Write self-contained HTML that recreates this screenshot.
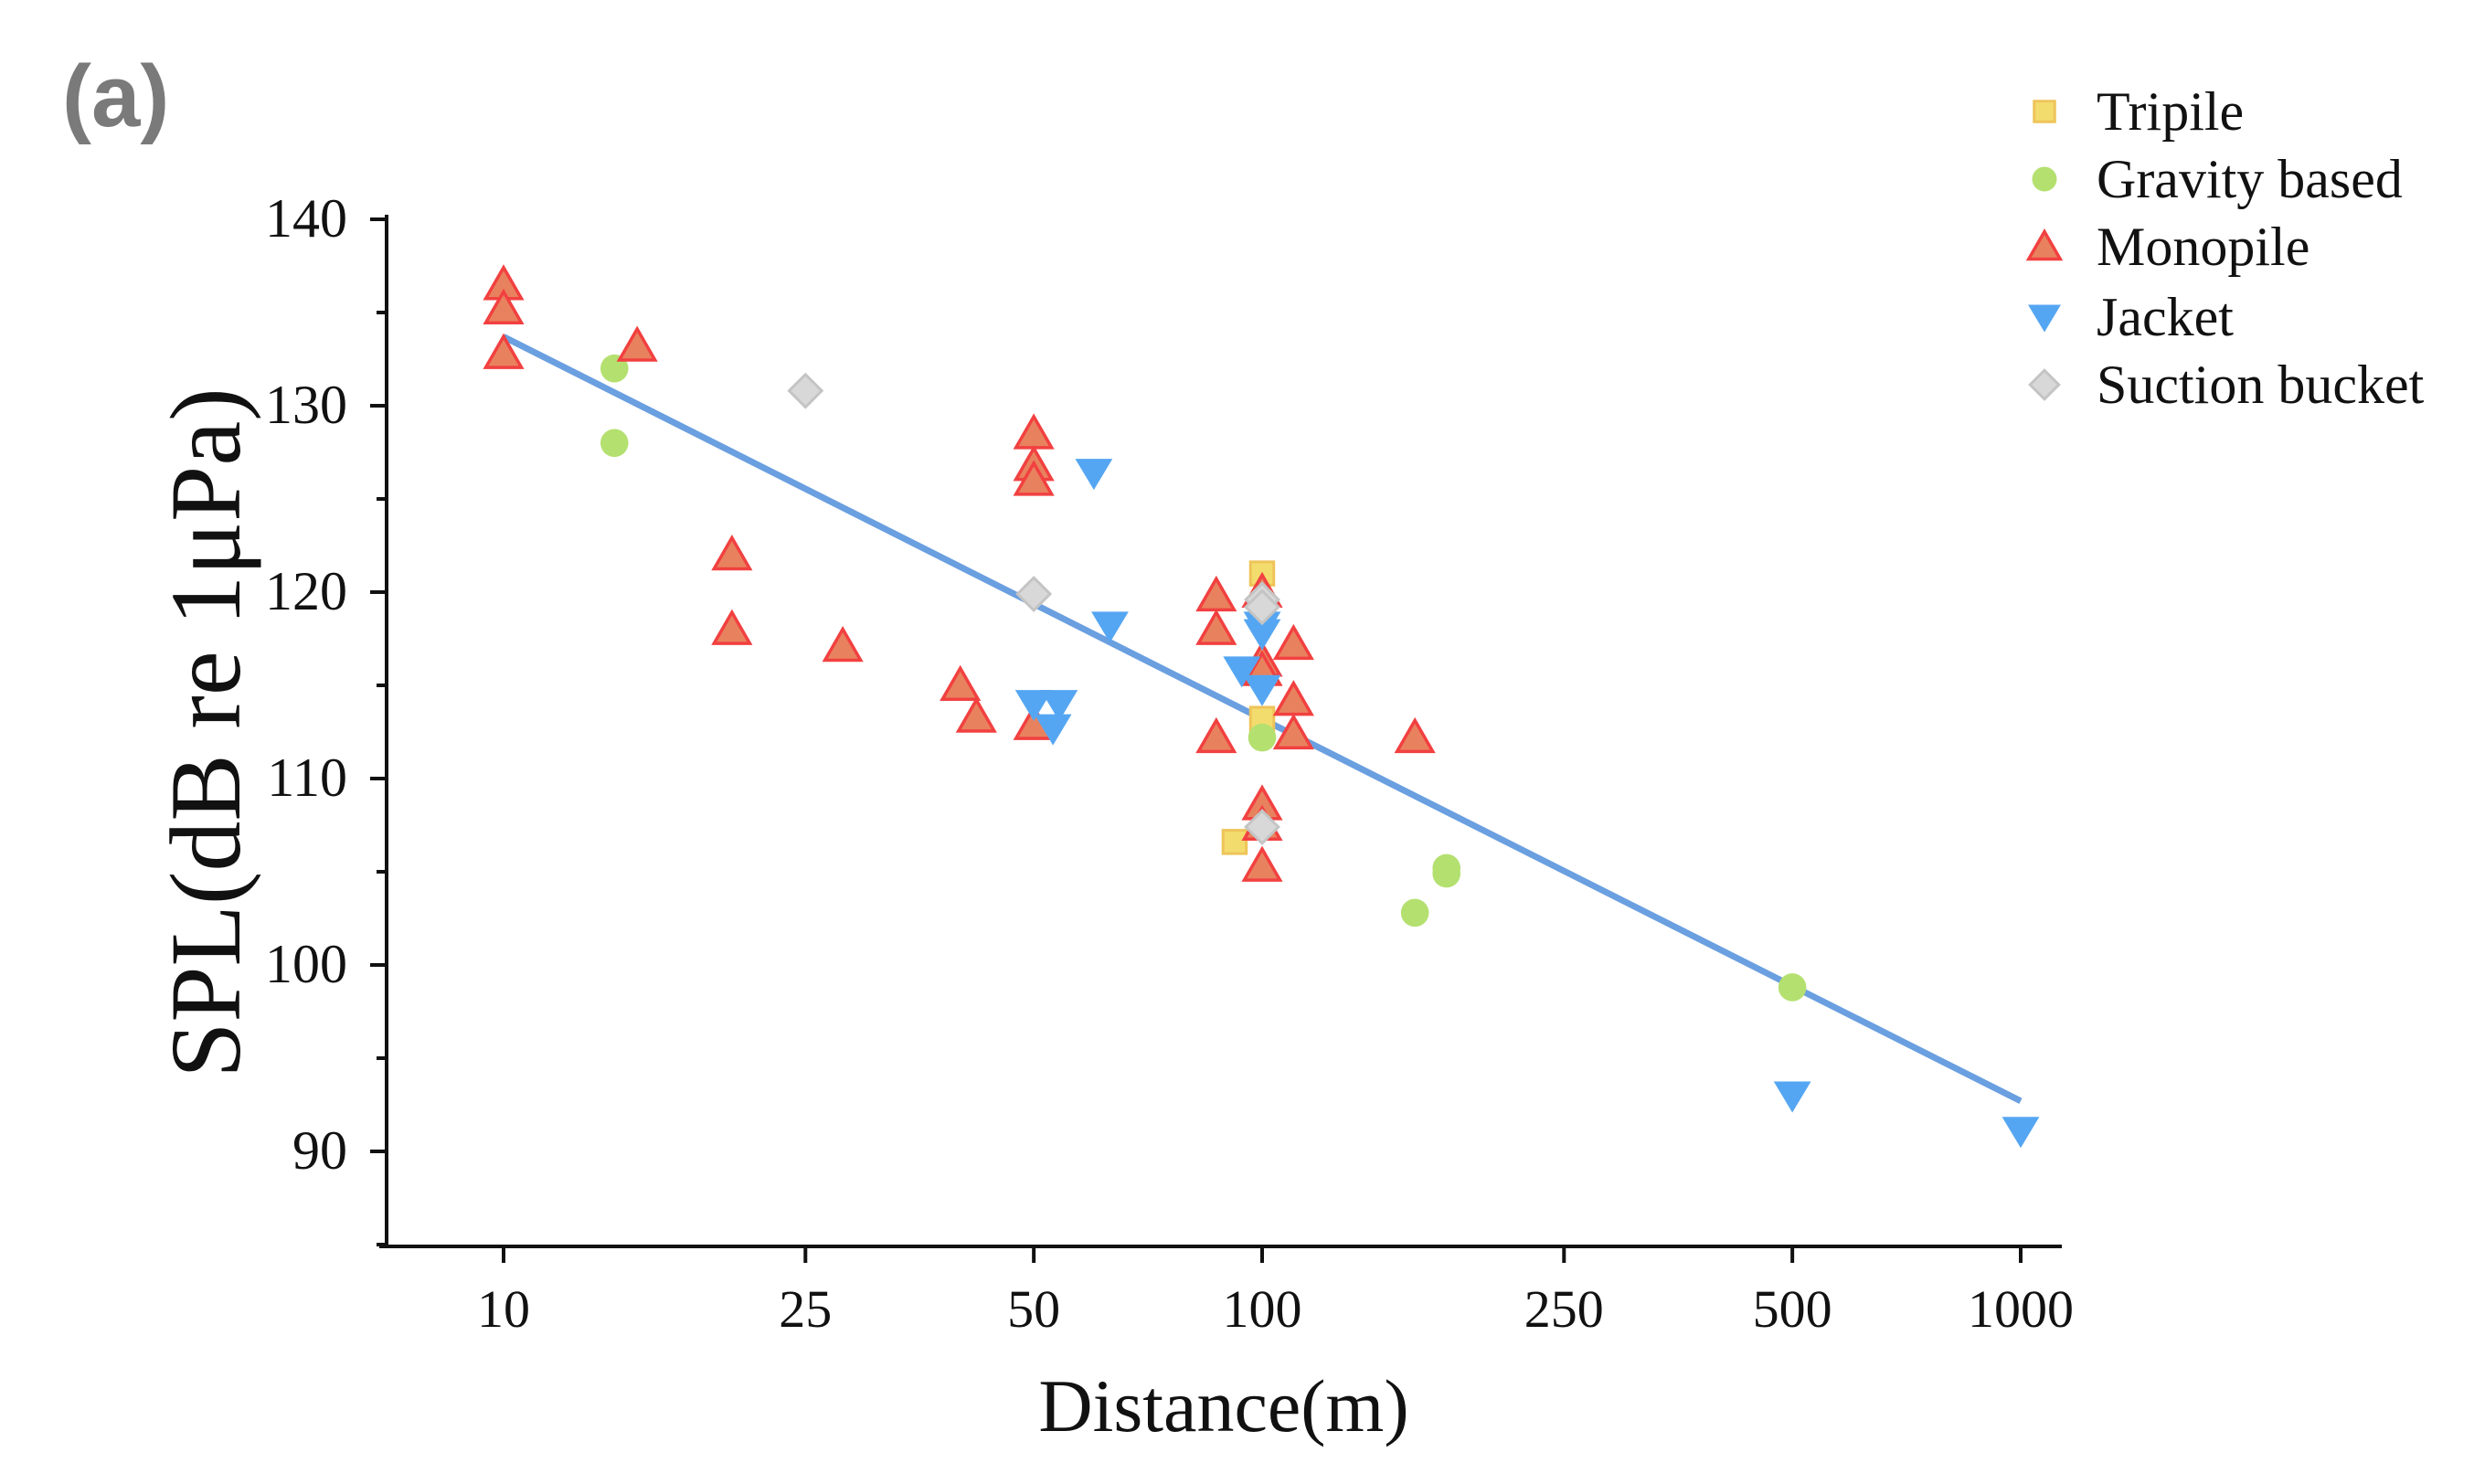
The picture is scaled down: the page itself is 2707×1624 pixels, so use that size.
<!DOCTYPE html>
<html><head><meta charset="utf-8"><style>
html,body{margin:0;padding:0;background:#fff;}
svg{display:block;}
text{font-family:"Liberation Serif",serif;fill:#111;}
</style></head><body>
<svg id="chart" width="2707" height="1624" viewBox="0 0 2707 1624">
<text x="68" y="138" style="font-family:'Liberation Sans',sans-serif;font-weight:bold;font-size:96px;fill:#7a7a7a">(a)</text>
<g id="axes"></g>
<g id="fit"></g>
<g id="marks"></g>
<g id="legend"></g>
<text x="1339" y="1566" text-anchor="middle" style="font-size:82px">Distance(m)</text>
<text transform="translate(262,802) rotate(-90)" text-anchor="middle" style="font-size:110px">SPL(dB re 1μPa)</text>
</svg>
<script>
const xTicks=[10,25,50,100,250,500,1000];
const yTicks=[90,100,110,120,130,140];
const tripileX=[100,92,100];
const tripileY=[121,106.6,113.2];
const gravityX=[14,14,100,159,175,175,500];
const gravityY=[132,128,112.2,102.8,105.2,104.9,98.8];
const monoX=[10,10,10,15,20,20,28,40,42,50,50,50,50,87,87,87,100,100,100,100,100,100,110,110,110,159];
const monoY=[136.5,135.2,132.8,133.2,122,118,117.1,115,113.3,128.5,126.8,126,112.9,119.8,118,112.2,120,116.3,115.8,108.6,107.5,105.3,117.2,114.2,112.4,112.2];
const jacketX=[60,50,54,53,63,94,100,100,100,500,1000];
const jacketY=[126.4,114,114,112.7,118.2,115.8,118.2,117.8,114.8,93,91.1];
const suctionX=[25,50,100,100,100];
const suctionY=[130.8,119.9,119.6,119.2,107.4];
const fitX=[10,1000];
const fitY=[133.7,92.7];
const legendLabels=["Tripile","Gravity based","Monopile","Jacket","Suction bucket"];

const NS="http://www.w3.org/2000/svg";
function xs(v){return 551+(Math.log10(v)-1)*830;}
function ys(v){return 1260-(v-90)*20.4;}
function mk(tag,attrs,parent){const e=document.createElementNS(NS,tag);for(const k in attrs)e.setAttribute(k,attrs[k]);parent.appendChild(e);return e;}
const axes=document.getElementById('axes');
let l=mk('line',{x1:423,y1:235,x2:423,y2:1366,stroke:'#111','stroke-width':4},axes);


l=mk('line',{x1:415,y1:1364,x2:2256,y2:1364,stroke:'#111','stroke-width':4},axes);


yTicks.forEach(v=>{const y=ys(v);
 mk('line',{x1:405,y1:y,x2:423,y2:y,stroke:'#111','stroke-width':4},axes);
 const t=mk('text',{x:380,y:y+19,'text-anchor':'end','font-size':60},axes);t.textContent=v;
 
 
 if(v<140){const ym=ys(v+5);mk('line',{x1:412,y1:ym,x2:423,y2:ym,stroke:'#111','stroke-width':4},axes);}
});
{const ym=ys(85);mk('line',{x1:412,y1:ym,x2:423,y2:ym,stroke:'#111','stroke-width':4},axes);}
xTicks.forEach(v=>{const x=xs(v);
 mk('line',{x1:x,y1:1364,x2:x,y2:1382,stroke:'#111','stroke-width':4},axes);
 const t=mk('text',{x:x,y:1452,'text-anchor':'middle','font-size':58},axes);t.textContent=v;
 
 
});
const fit=document.getElementById('fit');
l=mk('line',{x1:xs(fitX[0]),y1:ys(fitY[0]),x2:xs(fitX[1]),y2:ys(fitY[1]),stroke:'#6a9fe0','stroke-width':7},fit);



function marker(kind,x,y,p,s){let e;
 if(kind==='sq')e=mk('rect',{x:x-s*0.75,y:y-s*0.75,width:s*1.5,height:s*1.5,fill:'#f3dc6e',stroke:'#eec45a','stroke-width':3},p);
 else if(kind==='ci')e=mk('circle',{cx:x,cy:y,r:s*0.9,fill:'#b4e070'},p);
 else if(kind==='up')e=mk('polygon',{points:`${x},${y-s*1.1} ${x+s*1.15},${y+s*0.9} ${x-s*1.15},${y+s*0.9}`,fill:'#e8825e',stroke:'#f24040','stroke-width':3.5},p);
 else if(kind==='dn')e=mk('polygon',{points:`${x-s*1.2},${y-s*0.9} ${x+s*1.2},${y-s*0.9} ${x},${y+s*1.1}`,fill:'#55a6f2'},p);
 else e=mk('polygon',{points:`${x},${y-s*1.05} ${x+s*1.05},${y} ${x},${y+s*1.05} ${x-s*1.05},${y}`,fill:'#d8d8d8',stroke:'#c4c4c4','stroke-width':3},p);
 return e;}
const marks=document.getElementById('marks');
const series=[['sq',tripileX,tripileY,'tripile-point'],['ci',gravityX,gravityY,'gravity-point'],['up',monoX,monoY,'monopile-point'],['dn',jacketX,jacketY,'jacket-point'],['di',suctionX,suctionY,'suction-point']];
series.forEach(s=>{s[1].forEach((xv,i)=>{const e=marker(s[0],xs(xv),ys(s[2][i]),marks,17);
 
 
});});
const lg=document.getElementById('legend');
const rows=[122,196,270,347,421];
series.forEach((s,i)=>{const e=marker(s[0],2237,rows[i],lg,15);
 
 
 const t=mk('text',{x:2294,y:rows[i]+20,'font-size':60},lg);t.textContent=legendLabels[i];
 
 
});
</script>
</body></html>
